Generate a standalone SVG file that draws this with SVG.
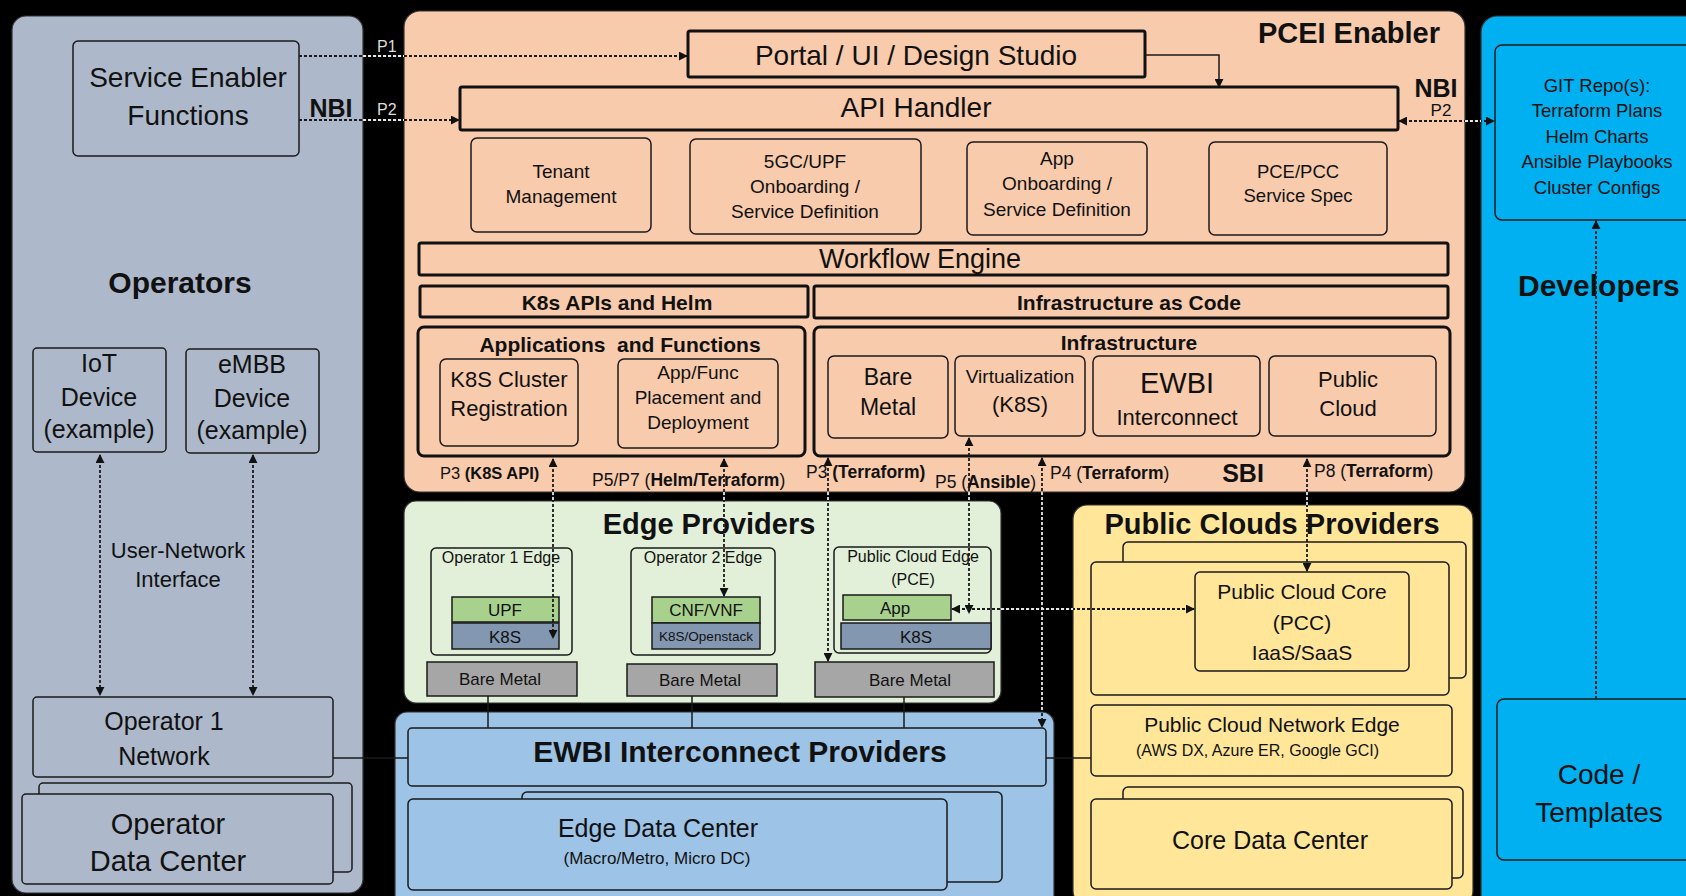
<svg xmlns="http://www.w3.org/2000/svg" width="1686" height="896" viewBox="0 0 1686 896">
<defs>
<style>
text { font-family: "Liberation Sans", Arial, sans-serif; fill: #111; }
.c { text-anchor: middle; }
.b { font-weight: bold; }
.panel { stroke: #333; stroke-width: 1.2; }
.box { stroke: #1a1a1a; stroke-width: 1.5; }
.thick { stroke: #111; stroke-width: 3; }
.dash { stroke: #1a1a1a; stroke-width: 1.8; stroke-dasharray: 3 2; fill: none; }
.solid { stroke: #1a1a1a; stroke-width: 1.5; fill: none; }
.gap { stroke: #e6e6e6; stroke-width: 1.8; stroke-dasharray: 3 2; fill: none; }
.green { fill: #A9D18E; }
.k8s { fill: #8497B0; }
.metal { fill: #A6A6A6; }
</style>
<marker id="ah" viewBox="0 0 10 10" refX="9" refY="5" markerWidth="9" markerHeight="9" markerUnits="userSpaceOnUse" orient="auto-start-reverse">
<path d="M0,0 L10,5 L0,10 z" fill="#111"/>
</marker>
</defs>
<rect x="0" y="0" width="1686" height="896" fill="#000"/>

<!-- Operators -->
<g id="operators">
<rect x="12" y="16" width="351" height="877" rx="14" fill="#ADB9CA" class="panel"/>
<text x="180" y="293" font-size="30" class="c b">Operators</text>
</g>
<g id="service-enabler">
<rect x="73" y="41" width="226" height="115" rx="5" fill="#ADB9CA" class="box"/>
<text x="188" y="87" font-size="28" class="c">Service Enabler</text>
<text x="188" y="125" font-size="28" class="c">Functions</text>
</g>
<g id="nbi-left"><text x="331" y="117" font-size="25" class="c b">NBI</text></g>
<g id="iot-device">
<rect x="33" y="348" width="133" height="104" rx="4" fill="#ADB9CA" class="box"/>
<text x="99" y="372" font-size="25" class="c">IoT</text>
<text x="99" y="406" font-size="25" class="c">Device</text>
<text x="99" y="438" font-size="25" class="c">(example)</text>
</g>
<g id="embb-device">
<rect x="186" y="349" width="133" height="104" rx="4" fill="#ADB9CA" class="box"/>
<text x="252" y="373" font-size="25" class="c">eMBB</text>
<text x="252" y="407" font-size="25" class="c">Device</text>
<text x="252" y="439" font-size="25" class="c">(example)</text>
</g>
<g id="user-network-label">
<text x="178" y="558" font-size="22" class="c">User-Network</text>
<text x="178" y="587" font-size="22" class="c">Interface</text>
</g>
<g id="operator1-network">
<rect x="33" y="697" width="300" height="80" rx="4" fill="#ADB9CA" class="box"/>
<text x="164" y="730" font-size="25" class="c">Operator 1</text>
<text x="164" y="765" font-size="25" class="c">Network</text>
</g>
<g id="operator-dc">
<rect x="39" y="783" width="313" height="89" rx="4" fill="#ADB9CA" class="box"/>
<rect x="22" y="794" width="311" height="90" rx="4" fill="#ADB9CA" class="box"/>
<text x="168" y="834" font-size="29" class="c">Operator</text>
<text x="168" y="871" font-size="29" class="c">Data Center</text>
</g>

<!-- PCEI Enabler -->
<g id="pcei-enabler">
<rect x="404" y="11" width="1061" height="481" rx="16" fill="#F8CBAD" class="panel"/>
<text x="1440" y="43" font-size="29" class="b" text-anchor="end">PCEI Enabler</text>
<text x="1436" y="97" font-size="25" class="c b">NBI</text>
<text x="1441" y="116" font-size="17" class="c">P2</text>
<text x="1243" y="482" font-size="25" class="c b">SBI</text>
</g>
<g id="portal">
<rect x="688" y="31" width="457" height="46" rx="2" fill="#F8CBAD" class="thick"/>
<text x="916" y="65" font-size="28" class="c">Portal / UI / Design Studio</text>
</g>
<g id="api-handler">
<rect x="460" y="87" width="938" height="43" rx="2" fill="#F8CBAD" class="thick"/>
<text x="916" y="117" font-size="28" class="c">API Handler</text>
</g>
<g id="tenant-mgmt">
<rect x="471" y="138" width="180" height="94" rx="6" fill="#F8CBAD" class="box"/>
<text x="561" y="178" font-size="19" class="c">Tenant</text>
<text x="561" y="203" font-size="19" class="c">Management</text>
</g>
<g id="5gc-onboarding">
<rect x="690" y="139" width="231" height="95" rx="6" fill="#F8CBAD" class="box"/>
<text x="805" y="168" font-size="19" class="c">5GC/UPF</text>
<text x="805" y="193" font-size="19" class="c">Onboarding /</text>
<text x="805" y="218" font-size="19" class="c">Service Definition</text>
</g>
<g id="app-onboarding">
<rect x="967" y="142" width="180" height="93" rx="6" fill="#F8CBAD" class="box"/>
<text x="1057" y="165" font-size="19" class="c">App</text>
<text x="1057" y="190" font-size="19" class="c">Onboarding /</text>
<text x="1057" y="216" font-size="19" class="c">Service Definition</text>
</g>
<g id="pce-pcc-spec">
<rect x="1209" y="142" width="178" height="93" rx="6" fill="#F8CBAD" class="box"/>
<text x="1298" y="178" font-size="18.5" class="c">PCE/PCC</text>
<text x="1298" y="202" font-size="18.5" class="c">Service Spec</text>
</g>
<g id="workflow-engine">
<rect x="419" y="243" width="1029" height="32" rx="2" fill="#F8CBAD" class="thick"/>
<text x="920" y="268" font-size="27" class="c">Workflow Engine</text>
</g>
<g id="k8s-apis-helm">
<rect x="420" y="286" width="388" height="31" rx="2" fill="#F8CBAD" class="thick"/>
<text x="617" y="310" font-size="21" class="c b">K8s APIs and Helm</text>
</g>
<g id="infra-as-code">
<rect x="814" y="286" width="634" height="32" rx="2" fill="#F8CBAD" class="thick"/>
<text x="1129" y="310" font-size="21" class="c b">Infrastructure as Code</text>
</g>
<g id="apps-functions">
<rect x="418" y="327" width="387" height="129" rx="6" fill="#F8CBAD" class="thick"/>
<text x="620" y="352" font-size="21" class="c b" style="white-space:pre">Applications  and Functions</text>
</g>
<g id="k8s-cluster-reg">
<rect x="440" y="359" width="138" height="87" rx="6" fill="#F8CBAD" class="box"/>
<text x="509" y="387" font-size="22" class="c">K8S Cluster</text>
<text x="509" y="416" font-size="22" class="c">Registration</text>
</g>
<g id="app-func-placement">
<rect x="618" y="359" width="160" height="89" rx="6" fill="#F8CBAD" class="box"/>
<text x="698" y="379" font-size="19" class="c">App/Func</text>
<text x="698" y="404" font-size="19" class="c">Placement and</text>
<text x="698" y="429" font-size="19" class="c">Deployment</text>
</g>
<g id="infrastructure">
<rect x="814" y="327" width="636" height="129" rx="6" fill="#F8CBAD" class="thick"/>
<text x="1129" y="350" font-size="21" class="c b">Infrastructure</text>
</g>
<g id="infra-bare-metal">
<rect x="828" y="356" width="120" height="82" rx="6" fill="#F8CBAD" class="box"/>
<text x="888" y="385" font-size="23" class="c">Bare</text>
<text x="888" y="415" font-size="23" class="c">Metal</text>
</g>
<g id="infra-virtualization">
<rect x="955" y="356" width="130" height="80" rx="6" fill="#F8CBAD" class="box"/>
<text x="1020" y="383" font-size="19" class="c">Virtualization</text>
<text x="1020" y="412" font-size="22" class="c">(K8S)</text>
</g>
<g id="infra-ewbi">
<rect x="1093" y="356" width="167" height="80" rx="6" fill="#F8CBAD" class="box"/>
<text x="1177" y="393" font-size="29" class="c">EWBI</text>
<text x="1177" y="425" font-size="22" class="c">Interconnect</text>
</g>
<g id="infra-public-cloud">
<rect x="1269" y="356" width="167" height="80" rx="6" fill="#F8CBAD" class="box"/>
<text x="1348" y="387" font-size="22" class="c">Public</text>
<text x="1348" y="416" font-size="22" class="c">Cloud</text>
</g>

<!-- Edge Providers -->
<g id="edge-providers">
<rect x="404" y="501" width="597" height="202" rx="12" fill="#E2F0D9" class="panel"/>
<text x="709" y="534" font-size="29" class="c b">Edge Providers</text>
</g>
<g id="operator1-edge">
<rect x="431" y="548" width="141" height="107" rx="5" fill="#E2F0D9" class="box"/>
<text x="501" y="563" font-size="16" class="c">Operator 1 Edge</text>
<rect x="452" y="597" width="107" height="25" class="box green"/>
<text x="505" y="616" font-size="17" class="c">UPF</text>
<rect x="452" y="623" width="107" height="26" class="box k8s"/>
<text x="505" y="643" font-size="17" class="c">K8S</text>
</g>
<g id="operator1-bare-metal">
<rect x="427" y="662" width="150" height="34" class="box metal"/>
<text x="500" y="685" font-size="17" class="c">Bare Metal</text>
</g>
<g id="operator2-edge">
<rect x="631" y="548" width="144" height="107" rx="5" fill="#E2F0D9" class="box"/>
<text x="703" y="563" font-size="16" class="c">Operator 2 Edge</text>
<rect x="652" y="597" width="108" height="26" class="box green"/>
<text x="706" y="616" font-size="17" class="c">CNF/VNF</text>
<rect x="652" y="623" width="108" height="26" class="box k8s"/>
<text x="706" y="641" font-size="13.5" class="c">K8S/Openstack</text>
</g>
<g id="operator2-bare-metal">
<rect x="627" y="664" width="150" height="32" class="box metal"/>
<text x="700" y="686" font-size="17" class="c">Bare Metal</text>
</g>
<g id="public-cloud-edge">
<rect x="834" y="547" width="157" height="106" rx="5" fill="#E2F0D9" class="box"/>
<text x="913" y="562" font-size="16" class="c">Public Cloud Edge</text>
<text x="913" y="585" font-size="16" class="c">(PCE)</text>
<rect x="843" y="595" width="108" height="25" class="box green"/>
<text x="895" y="614" font-size="17" class="c">App</text>
<rect x="841" y="623" width="150" height="26" class="box k8s"/>
<text x="916" y="643" font-size="17" class="c">K8S</text>
</g>
<g id="pce-bare-metal">
<rect x="815" y="662" width="179" height="35" class="box metal"/>
<text x="910" y="686" font-size="17" class="c">Bare Metal</text>
</g>

<!-- EWBI Interconnect Providers -->
<g id="ewbi-providers">
<rect x="395" y="712" width="659" height="200" rx="12" fill="#9DC3E6" class="panel"/>
<rect x="408" y="728" width="638" height="58" rx="4" fill="#9DC3E6" class="box"/>
<text x="740" y="762" font-size="30" class="c b">EWBI Interconnect Providers</text>
</g>
<g id="edge-dc">
<rect x="522" y="792" width="480" height="90" rx="5" fill="#9DC3E6" class="box"/>
<rect x="408" y="799" width="539" height="91" rx="5" fill="#9DC3E6" class="box"/>
<text x="658" y="837" font-size="25" class="c">Edge Data Center</text>
<text x="657" y="864" font-size="17" class="c">(Macro/Metro, Micro DC)</text>
</g>

<!-- Public Clouds Providers -->
<g id="public-clouds">
<rect x="1073" y="505" width="400" height="400" rx="14" fill="#FFE699" class="panel"/>
<text x="1272" y="534" font-size="29" class="c b">Public Clouds Providers</text>
<rect x="1123" y="542" width="343" height="136" rx="5" fill="#FFE699" class="box"/>
<rect x="1091" y="562" width="358" height="133" rx="5" fill="#FFE699" class="box"/>
</g>
<g id="pcc">
<rect x="1195" y="572" width="214" height="99" rx="5" fill="#FFE699" class="box"/>
<text x="1302" y="599" font-size="21" class="c">Public Cloud Core</text>
<text x="1302" y="630" font-size="21" class="c">(PCC)</text>
<text x="1302" y="660" font-size="21" class="c">IaaS/SaaS</text>
</g>
<g id="pc-network-edge">
<rect x="1091" y="705" width="361" height="71" rx="5" fill="#FFE699" class="box"/>
<text x="1272" y="732" font-size="21" class="c">Public Cloud Network Edge</text>
<text x="1136" y="756" font-size="16">(AWS DX, Azure ER, Google GCI)</text>
</g>
<g id="core-dc">
<rect x="1123" y="787" width="340" height="91" rx="5" fill="#FFE699" class="box"/>
<rect x="1091" y="799" width="361" height="90" rx="5" fill="#FFE699" class="box"/>
<text x="1270" y="849" font-size="25" class="c">Core Data Center</text>
</g>

<!-- Developers -->
<g id="developers">
<rect x="1481" y="16" width="240" height="900" rx="16" fill="#00B0F0" class="panel"/>
<text x="1518" y="296" font-size="30" class="b">Developers</text>
</g>
<g id="git-repos">
<rect x="1495" y="45" width="220" height="175" rx="7" fill="#00B0F0" class="box"/>
<text x="1597" y="92" font-size="18.5" class="c">GIT Repo(s):</text>
<text x="1597" y="117" font-size="18.5" class="c">Terraform Plans</text>
<text x="1597" y="143" font-size="18.5" class="c">Helm Charts</text>
<text x="1597" y="168" font-size="18.5" class="c">Ansible Playbooks</text>
<text x="1597" y="194" font-size="18.5" class="c">Cluster Configs</text>
</g>
<g id="code-templates">
<rect x="1497" y="699" width="220" height="161" rx="7" fill="#00B0F0" class="box"/>
<text x="1599" y="784" font-size="28" class="c">Code /</text>
<text x="1599" y="822" font-size="28" class="c">Templates</text>
</g>

<!-- Connectors -->
<g id="connectors">
<line x1="299" y1="56" x2="687" y2="56" class="dash" marker-end="url(#ah)"/>
<line x1="299" y1="120" x2="459" y2="120" class="dash" marker-end="url(#ah)"/>
<polyline points="1145,55 1219,55 1219,87" class="solid" marker-end="url(#ah)"/>
<line x1="1399" y1="121" x2="1494" y2="121" class="dash" marker-start="url(#ah)" marker-end="url(#ah)"/>
<line x1="100" y1="455" x2="100" y2="695" class="dash" marker-start="url(#ah)" marker-end="url(#ah)"/>
<line x1="253" y1="455" x2="253" y2="695" class="dash" marker-start="url(#ah)" marker-end="url(#ah)"/>
<line x1="333" y1="758" x2="408" y2="758" class="solid"/>
<line x1="553" y1="459" x2="553" y2="638" class="dash" marker-start="url(#ah)" marker-end="url(#ah)"/>
<line x1="724" y1="459" x2="724" y2="596" class="dash" marker-start="url(#ah)" marker-end="url(#ah)"/>
<line x1="828" y1="458" x2="828" y2="661" class="dash" marker-start="url(#ah)" marker-end="url(#ah)"/>
<line x1="969" y1="438" x2="969" y2="613" class="dash" marker-start="url(#ah)" marker-end="url(#ah)"/>
<line x1="952" y1="609" x2="1194" y2="609" class="dash" marker-start="url(#ah)" marker-end="url(#ah)"/>
<line x1="1042" y1="458" x2="1042" y2="727" class="dash" marker-start="url(#ah)" marker-end="url(#ah)"/>
<line x1="1307" y1="459" x2="1307" y2="571" class="dash" marker-start="url(#ah)" marker-end="url(#ah)"/>
<line x1="488" y1="696" x2="488" y2="728" class="solid"/>
<line x1="692" y1="696" x2="692" y2="728" class="solid"/>
<line x1="904" y1="697" x2="904" y2="728" class="solid"/>
<line x1="1046" y1="758" x2="1091" y2="758" class="solid"/>
<line x1="1596" y1="699" x2="1596" y2="221" class="dash" marker-end="url(#ah)"/>
<g id="gap-dashes">
<line x1="363" y1="56" x2="404" y2="56" class="gap"/>
<line x1="363" y1="120" x2="404" y2="120" class="gap"/>
<line x1="1465" y1="121" x2="1481" y2="121" class="gap"/>
<line x1="553" y1="492" x2="553" y2="501" class="gap"/>
<line x1="724" y1="492" x2="724" y2="501" class="gap"/>
<line x1="828" y1="492" x2="828" y2="501" class="gap"/>
<line x1="969" y1="492" x2="969" y2="501" class="gap"/>
<line x1="1001" y1="609" x2="1073" y2="609" class="gap"/>
<line x1="1042" y1="492" x2="1042" y2="712" class="gap"/>
<line x1="1307" y1="492" x2="1307" y2="505" class="gap"/>
</g>
</g>

<!-- Connector labels -->
<g id="connector-labels">
<text x="377" y="52" font-size="16" fill="#ddd" style="fill:#ddd">P1</text>
<text x="377" y="115" font-size="16" style="fill:#ddd">P2</text>
<text x="440" y="479" font-size="16.5">P3 <tspan class="b">(K8S API)</tspan></text>
<text x="592" y="486" font-size="17.5">P5/P7 (<tspan class="b">Helm/Terraform</tspan>)</text>
<text x="806" y="478" font-size="17.5">P3 <tspan class="b">(Terraform)</tspan></text>
<text x="935" y="488" font-size="17.5">P5 (<tspan class="b">Ansible</tspan>)</text>
<text x="1050" y="479" font-size="17.5">P4 (<tspan class="b">Terraform</tspan>)</text>
<text x="1314" y="477" font-size="17.5">P8 (<tspan class="b">Terraform</tspan>)</text>
</g>
</svg>
